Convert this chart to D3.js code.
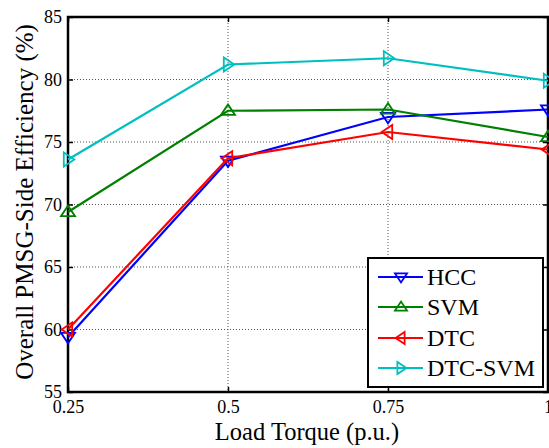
<!DOCTYPE html>
<html><head><meta charset="utf-8">
<script src="https://cdn.jsdelivr.net/npm/d3@7"></script>
<style>body{margin:0;background:#fff}svg{display:block}text{font-family:"Liberation Serif","Times New Roman",serif;fill:#000}</style>
</head><body>
<svg id="c" width="549" height="448"></svg>
<script>
const xValues = [0.25, 0.5, 0.75, 1];
const xTickLabels = ["0.25", "0.5", "0.75", "1"];
const yTicks = [55, 60, 65, 70, 75, 80, 85];
const seriesNames = ["HCC", "SVM", "DTC", "DTC-SVM"];
const hcc = [59.4, 73.5, 77.0, 77.6];
const svm = [69.4, 77.5, 77.6, 75.4];
const dtc = [60.0, 73.7, 75.8, 74.4];
const dtcSvm = [73.6, 81.2, 81.7, 79.9];
const colors = ["#0000ff", "#008000", "#ff0000", "#00bfbf"];
const markers = ["down", "up", "left", "right"];
const seriesValues = [hcc, svm, dtc, dtcSvm];

const svg = d3.select("#c");
const L = 68, R = 548, T = 17, B = 392;
const x = d3.scaleLinear().domain([0.25, 1]).range([L, R]);
const y = d3.scaleLinear().domain([55, 85]).range([B, T]);

// grid
const g = svg.append("g");
xValues.slice(1, -1).forEach(v => g.append("line").attr("x1", x(v)).attr("x2", x(v)).attr("y1", T).attr("y2", B)
  .attr("stroke", "#555").attr("stroke-width", 1).attr("stroke-dasharray", "1,2"));
yTicks.slice(1, -1).forEach(v => g.append("line").attr("x1", L).attr("x2", R).attr("y1", y(v)).attr("y2", y(v))
  .attr("stroke", "#555").attr("stroke-width", 1).attr("stroke-dasharray", "1,2"));

// axes
const xAxis = d3.axisBottom(x).tickValues(xValues).tickFormat((d, i) => xTickLabels[i]).tickSizeInner(-5).tickSizeOuter(0).tickPadding(10);
const yAxis = d3.axisLeft(y).tickValues(yTicks).tickSizeInner(-5).tickSizeOuter(0).tickPadding(6);
const xa = svg.append("g").attr("transform", `translate(0,${B})`).call(xAxis);
const ya = svg.append("g").attr("transform", `translate(${L},0)`).call(yAxis);
const xt = svg.append("g").attr("transform", `translate(0,${T})`).call(d3.axisTop(x).tickValues(xValues).tickFormat("").tickSizeInner(-5).tickSizeOuter(0));
const yr = svg.append("g").attr("transform", `translate(${R},0)`).call(d3.axisRight(y).tickValues(yTicks).tickFormat("").tickSizeInner(-5).tickSizeOuter(0));
[xa, ya, xt, yr].forEach(a => {
  a.select(".domain").remove();
  a.selectAll(".tick line").attr("stroke", "#000").attr("stroke-width", 1.5);
  a.selectAll("text").attr("font-size", 18).attr("font-family", "Liberation Serif").attr("fill", "#000");
});
xa.selectAll("text").attr("dy", "0.6em");
// frame
svg.append("rect").attr("x", L).attr("y", T).attr("width", R - L).attr("height", B - T)
  .attr("fill", "none").attr("stroke", "#000").attr("stroke-width", 2.5);

function tri(type, s) {
  const a = s;
  let p;
  if (type === "down") p = [[-a, -a * 0.6], [a, -a * 0.6], [0, a * 0.9]];
  else if (type === "up") p = [[-a, a * 0.6], [a, a * 0.6], [0, -a * 0.9]];
  else if (type === "left") p = [[a * 0.6, -a], [a * 0.6, a], [-a * 0.9, 0]];
  else p = [[-a * 0.6, -a], [-a * 0.6, a], [a * 0.9, 0]];
  return "M" + p.map(q => q.join(",")).join("L") + "Z";
}

const line = d3.line().x((d, i) => x(xValues[i])).y(d => y(d));
seriesValues.forEach((vals, k) => {
  svg.append("path").datum(vals).attr("d", line).attr("fill", "none").attr("stroke", colors[k]).attr("stroke-width", 2.2);
  vals.forEach((v, i) => svg.append("path").attr("d", tri(markers[k], 7))
    .attr("transform", `translate(${x(xValues[i])},${y(v)})`)
    .attr("fill", "none").attr("stroke", colors[k]).attr("stroke-width", 1.8));
});

// legend
const lg = svg.append("g");
lg.append("rect").attr("x", 368).attr("y", 258).attr("width", 175).attr("height", 129)
  .attr("fill", "#fff").attr("stroke", "#000").attr("stroke-width", 2);
const ly = [277, 307, 338, 368];
seriesNames.forEach((n, k) => {
  lg.append("line").attr("x1", 378).attr("x2", 423).attr("y1", ly[k]).attr("y2", ly[k]).attr("stroke", colors[k]).attr("stroke-width", 2.2);
  lg.append("path").attr("d", tri(markers[k], 6)).attr("transform", `translate(401,${ly[k]})`)
    .attr("fill", "none").attr("stroke", colors[k]).attr("stroke-width", 1.8);
  lg.append("text").attr("x", 427).attr("y", ly[k]).attr("dy", "0.35em").attr("font-size", 24).text(n);
});

// titles
svg.append("text").attr("x", 307).attr("y", 440).attr("text-anchor", "middle").attr("font-size", 24.5).text("Load Torque (p.u.)");
svg.append("text").attr("transform", `translate(33,202) rotate(-90)`).attr("text-anchor", "middle").attr("font-size", 25).text("Overall PMSG-Side Efficiency (%)");
</script>
</body></html>
